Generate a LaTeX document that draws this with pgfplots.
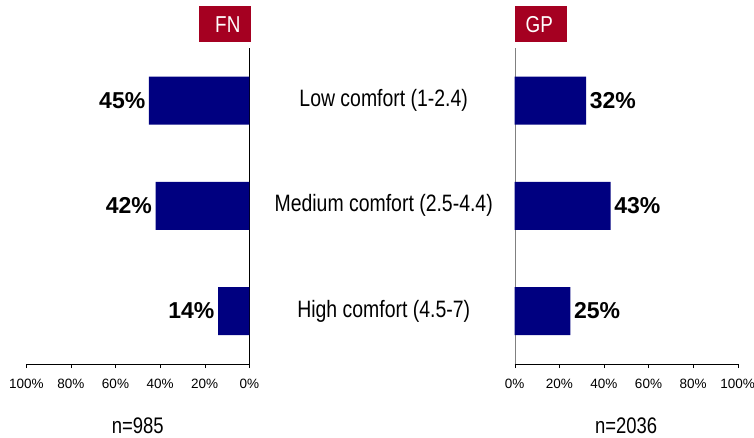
\documentclass[border=0pt]{standalone}
\usepackage{fontspec}
\setmainfont{Liberation Sans}
\newfontfamily\narrowfont[FakeStretch=0.82]{Liberation Sans}
\usepackage{pgfplots}
\pgfplotsset{compat=1.18}
\definecolor{fnred}{RGB}{165,0,33}
\definecolor{barblue}{RGB}{0,0,128}

\begin{document}
\begin{tikzpicture}[x=1pt,y=1pt]
\useasboundingbox (0,0) rectangle (754,437);
\pgfplotsset{
 common/.style={
  scale only axis, width=223pt, height=316.3pt,
  xmin=0, xmax=100, ymin=-0.503, ymax=2.503,
  xbar, bar width=48pt,
  xtick={0,20,...,100},
  xticklabel={\pgfmathprintnumber{\tick}\%},
  /pgf/number format/assume math mode=true,
  tick label style={font=\fontsize{13.5}{15}\selectfont},
  xticklabel style={yshift=-8pt},
  tick align=outside, major tick length=4pt,
  axis x line*=bottom,
  ytick=\empty,
  x axis line style={black},
  xtick style={black},
  point meta=explicit symbolic,
  nodes near coords,
  xlabel style={font=\narrowfont\fontsize{22.5}{24}\selectfont, at={(axis description cs:0.5,0)}, anchor=center, yshift=-61.5pt},
  clip=false,
 }
}
\begin{axis}[common, name=L, at={(26.3pt,73pt)}, anchor=south west, x dir=reverse,
  axis y line*=right, y axis line style={black}, xlabel={n=985},
  nodes near coords style={font=\bfseries\fontsize{23}{24}\selectfont, text=black, anchor=east, inner sep=3.5pt}]
\addplot[fill=barblue, draw=none] coordinates {(45,2)[45\%] (42,1)[42\%] (14,0)[14\%]};
\end{axis}
\begin{axis}[common, name=R, at={(514.7pt,73pt)}, anchor=south west,
  axis y line*=left, y axis line style={gray}, xlabel={n=2036},
  ytick={0,1,2},
  yticklabels={High comfort (4.5-7),Medium comfort (2.5-4.4),Low comfort (1-2.4)},
  yticklabel style={font=\narrowfont\fontsize{23.7}{24}\selectfont, anchor=center, xshift=-127pt},
  ytick style={draw=none},
  nodes near coords style={font=\bfseries\fontsize{23}{24}\selectfont, text=black, anchor=west, inner sep=3.5pt}]
\addplot[fill=barblue, draw=none] coordinates {(32,2)[32\%] (43,1)[43\%] (25,0)[25\%]};
\end{axis}
\node[fill=fnred, text=white, minimum width=52pt, minimum height=36pt, inner sep=0pt, anchor=south east, font=\narrowfont\fontsize{23}{24}\selectfont] at ([shift={(1.7pt,5pt)}]L.north east) {\hspace*{6pt}FN};
\node[fill=fnred, text=white, minimum width=52pt, minimum height=36pt, inner sep=0pt, anchor=south west, font=\narrowfont\fontsize{23}{24}\selectfont] at ([shift={(0.3pt,5pt)}]R.north west) {GP\hspace*{4pt}};
\end{tikzpicture}
\end{document}
